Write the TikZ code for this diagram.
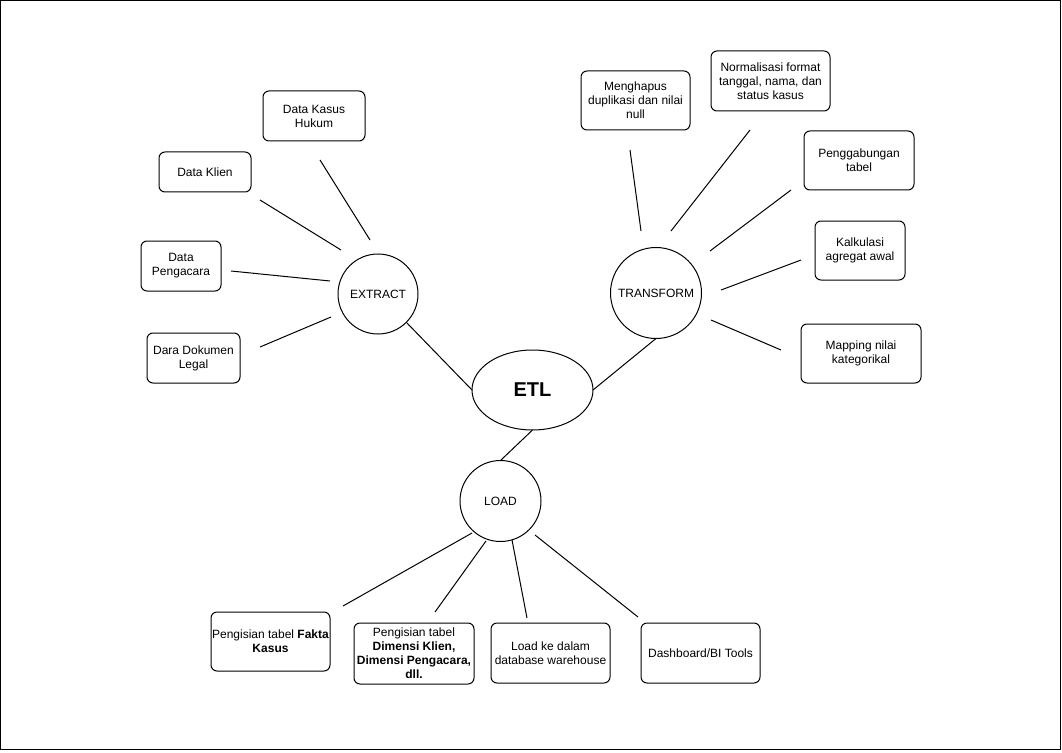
\documentclass[tikz,border=0pt]{standalone}
\usepackage{fontspec}
\setmainfont{Liberation Sans}
\usetikzlibrary{shapes.geometric}
\begin{document}
\begin{tikzpicture}[x=0.75pt,y=-0.75pt,
  every node/.style={inner sep=0pt, outer sep=0pt},
  stdfont/.style={font=\fontsize{9}{10.4}\selectfont},
  leaf/.style={draw, line width=0.75pt, rounded corners=4.5pt, align=center, stdfont},
  hub/.style={draw, circle, line width=0.75pt, stdfont},
  conn/.style={line width=0.75pt}
]
\useasboundingbox (0,0) rectangle (1062,752);
\draw[line width=0.9pt] (0.6,0.6) rectangle (1060.3,749.3);

% central
\node[draw, ellipse, line width=0.75pt, minimum width=90.75pt, minimum height=60pt,
      font=\fontsize{15}{18}\selectfont\bfseries] (etl) at (532.5,390) {ETL};

% hubs
\node[hub, minimum size=60pt] (ext) at (378,294) {EXTRACT};
\node[hub, minimum size=68.25pt] (trn) at (656,293) {TRANSFORM};
\node[hub, minimum size=60.75pt] (load) at (500.5,501) {LOAD};

% extract leaves
\node[leaf, minimum width=76.5pt, minimum height=37.5pt] (kasus) at (314,116) {Data Kasus\\Hukum};
\node[leaf, minimum width=69pt, minimum height=30pt] (klien) at (205,172) {Data Klien};
\node[leaf, minimum width=60pt, minimum height=37.5pt] (pengacara) at (181,266) {Data\\Pengacara};
\node[leaf, minimum width=69.75pt, minimum height=37.5pt] (dokumen) at (193.5,358) {Dara Dokumen\\Legal};

% transform leaves
\node[leaf, minimum width=81.75pt, minimum height=44.25pt] (hapus) at (635.5,100.5) {Menghapus\\duplikasi dan nilai\\null};
\node[leaf, minimum width=89.25pt, minimum height=45pt] (normal) at (770.5,81) {Normalisasi format\\tanggal, nama, dan\\status kasus};
\node[leaf, minimum width=82.5pt, minimum height=44.25pt] (gabung) at (859,160.5) {Penggabungan\\tabel};
\node[leaf, minimum width=67.5pt, minimum height=44.25pt] (kalk) at (860,250.5) {Kalkulasi\\agregat awal};
\node[leaf, minimum width=90pt, minimum height=44.25pt] (mapping) at (861,353.5) {Mapping nilai\\kategorikal};

% load leaves
\node[leaf, minimum width=89.25pt, minimum height=44.25pt] (fakta) at (270.5,641.5) {Pengisian tabel \textbf{Fakta}\\\textbf{Kasus}};
\node[leaf, minimum width=90pt, minimum height=45.75pt] (dimensi) at (414,653.5) {Pengisian tabel\\\textbf{Dimensi Klien,}\\\textbf{Dimensi Pengacara,}\\\textbf{dll.}};
\node[leaf, minimum width=89.25pt, minimum height=45pt] (loadke) at (550.5,653) {Load ke dalam\\database warehouse};
\node[leaf, minimum width=89.25pt, minimum height=45pt] (dash) at (700.5,653) {Dashboard/BI Tools};

% main connectors
\draw[conn] (ext.-45) -- (etl.west);
\draw[conn] (trn.south) -- (etl.east);
\draw[conn] (etl.south) -- (load.north);

% free-floating leaf connectors
\coordinate (kasus-a) at (320,160);   \coordinate (kasus-b) at (370,240);
\coordinate (klien-a) at (260,200);   \coordinate (klien-b) at (341,250);
\coordinate (peng-a) at (231,271);    \coordinate (peng-b) at (330,281);
\coordinate (dok-a) at (260,347);     \coordinate (dok-b) at (331,317);
\coordinate (hapus-a) at (630,150);   \coordinate (hapus-b) at (641,231);
\coordinate (normal-a) at (750,130);  \coordinate (normal-b) at (671,231);
\coordinate (gabung-a) at (791,190);  \coordinate (gabung-b) at (710,251);
\coordinate (kalk-a) at (801,260);    \coordinate (kalk-b) at (721,290);
\coordinate (map-a) at (781,350);     \coordinate (map-b) at (711,320);
\coordinate (fakta-a) at (343,606);   \coordinate (fakta-b) at (472,533);
\coordinate (dim-a) at (435,612);     \coordinate (dim-b) at (486,541);
\coordinate (loadke-a) at (527,618);  \coordinate (loadke-b) at (512,540);
\coordinate (dash-a) at (638,617);    \coordinate (dash-b) at (535,535);

\foreach \p in {kasus,klien,peng,dok,hapus,normal,gabung,kalk,map,fakta,dim,loadke,dash}
  \draw[conn] (\p-a) -- (\p-b);
\end{tikzpicture}
\end{document}
